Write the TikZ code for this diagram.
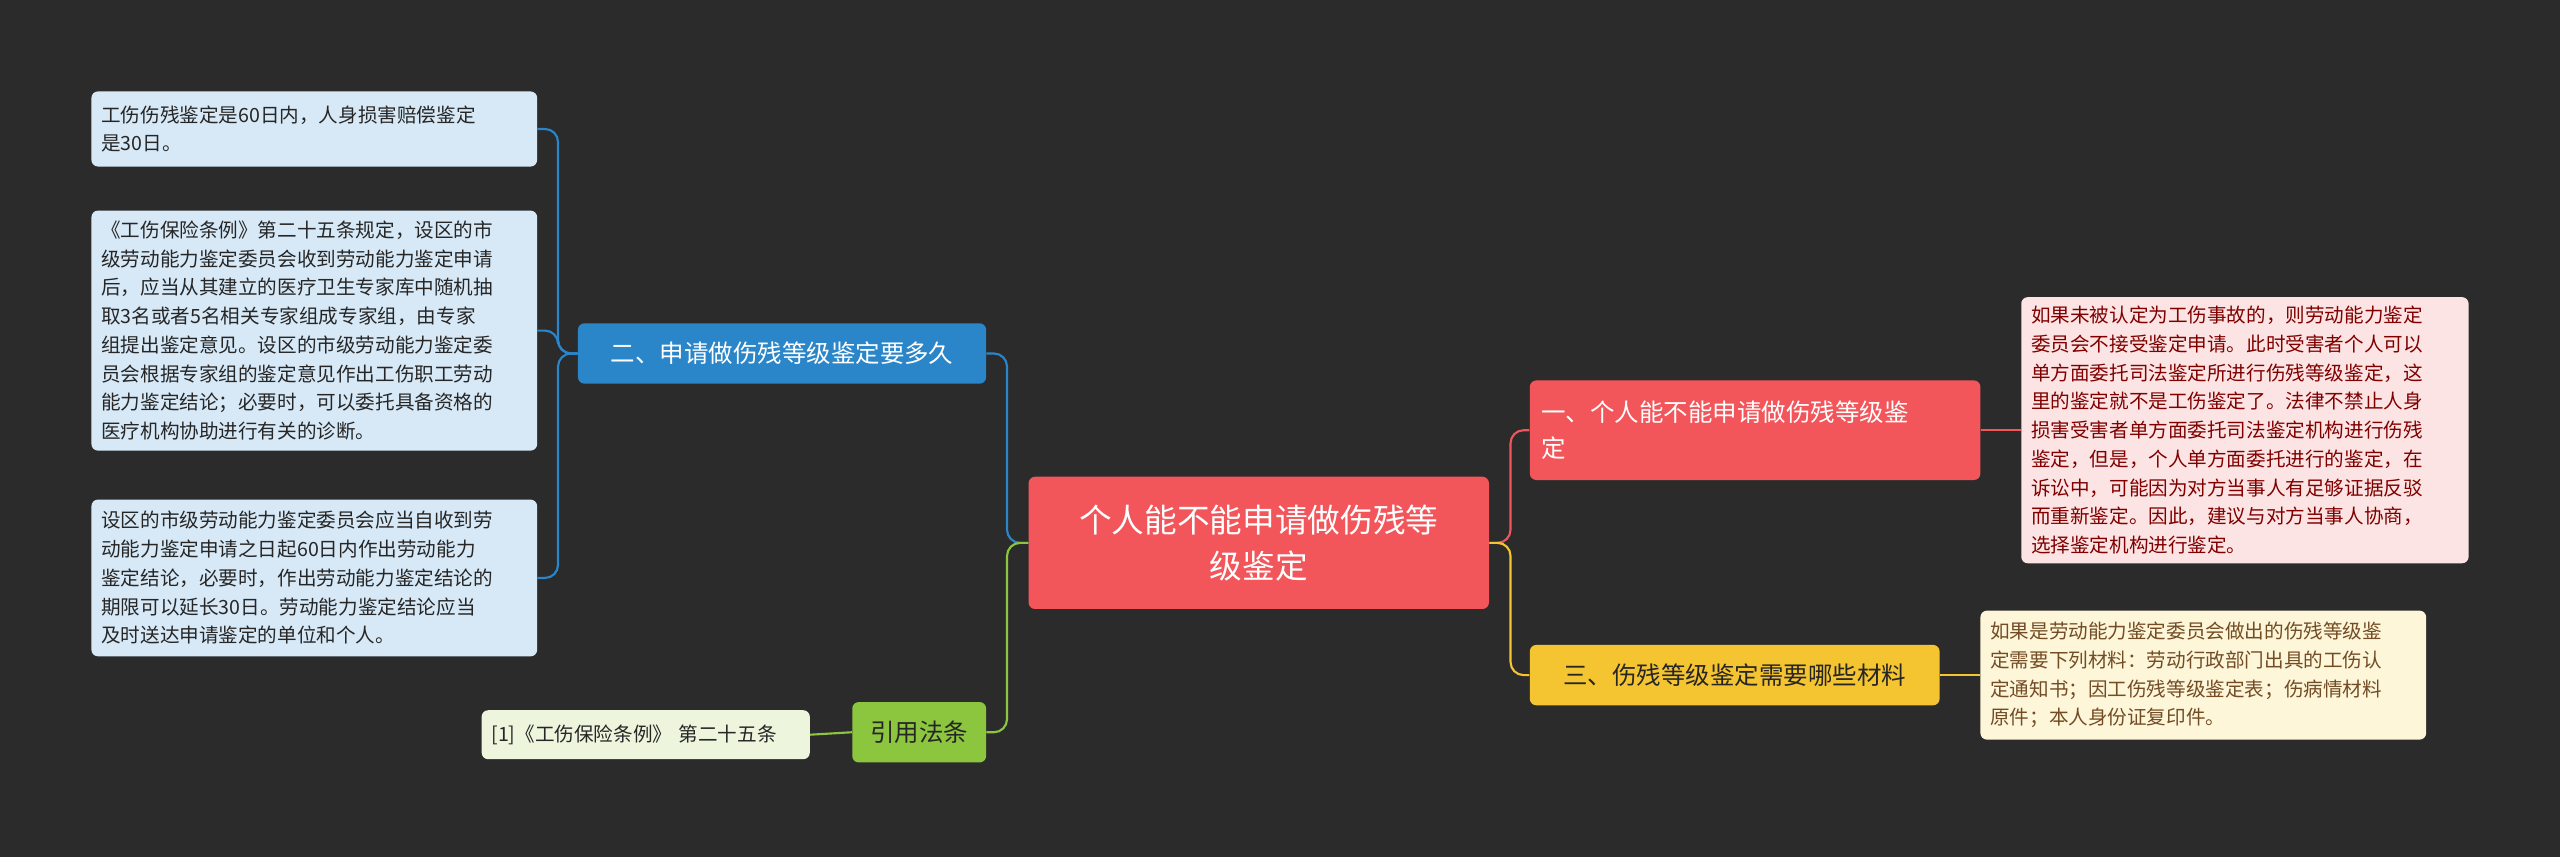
\documentclass[tikz,border=0pt]{standalone}
\usepackage{fontspec}
\newfontfamily\cjk{Noto Sans CJK SC}
\definecolor{bg}{HTML}{2B2B2C}
\definecolor{cred}{HTML}{F2555A}
\definecolor{cblue}{HTML}{2A86C8}
\definecolor{cgreen}{HTML}{8CC63F}
\definecolor{cyel}{HTML}{F5C431}
\definecolor{lblue}{HTML}{D7E9F7}
\definecolor{lgreen}{HTML}{EDF6DD}
\definecolor{lred}{HTML}{FDE4E4}
\definecolor{lyel}{HTML}{FDF6D8}
\begin{document}
\begin{tikzpicture}[x=1pt,y=-1pt,
 box/.style={rounded corners=4pt,inner sep=0pt,font=\cjk},
 leaf/.style={box,align=left,font=\cjk\fontsize{12}{17.6}\selectfont,text=black!85},
 conn/.style={line width=1.3pt,rounded corners=8pt}]
\fill[bg] (0,0) rectangle (1568,525);
\useasboundingbox (0,0) rectangle (1568,525);
% main nodes
\node[box,fill=cred,minimum width=282,minimum height=81,text=white,align=center,font=\cjk\fontsize{20}{28}\selectfont] (c) at (771,332.5) {个人能不能申请做伤残等\\级鉴定};
\node[box,fill=cblue,minimum width=250,minimum height=37,text=white,font=\cjk\fontsize{15}{20}\selectfont] (b2) at (479,216.5) {二、申请做伤残等级鉴定要多久};
\node[box,fill=cgreen,minimum width=82,minimum height=37,text=black!85,font=\cjk\fontsize{15}{20}\selectfont] (ref) at (563,448.5) {引用法条};
\node[box,fill=cred,minimum width=276,minimum height=61,text=white,align=left,font=\cjk\fontsize{15}{22}\selectfont,text width=262] (b1) at (1075,263.5) {一、个人能不能申请做伤残等级鉴\\定};
\node[box,fill=cyel,minimum width=251,minimum height=37,text=black!85,font=\cjk\fontsize{15}{20}\selectfont] (b3) at (1062.5,413.5) {三、伤残等级鉴定需要哪些材料};
% leaves
\node[leaf,fill=lblue,minimum width=273,minimum height=46,text width=261] (l1) at (192.5,79) {工伤伤残鉴定是60日内，人身损害赔偿鉴定\\是30日。};
\node[leaf,fill=lblue,minimum width=273,minimum height=147,text width=261] (l2) at (192.5,202.5) {《工伤保险条例》第二十五条规定，设区的市\\级劳动能力鉴定委员会收到劳动能力鉴定申请\\后，应当从其建立的医疗卫生专家库中随机抽\\取3名或者5名相关专家组成专家组，由专家\\组提出鉴定意见。设区的市级劳动能力鉴定委\\员会根据专家组的鉴定意见作出工伤职工劳动\\能力鉴定结论；必要时，可以委托具备资格的\\医疗机构协助进行有关的诊断。};
\node[leaf,fill=lblue,minimum width=273,minimum height=96,text width=261] (l3) at (192.5,354) {设区的市级劳动能力鉴定委员会应当自收到劳\\动能力鉴定申请之日起60日内作出劳动能力\\鉴定结论，必要时，作出劳动能力鉴定结论的\\期限可以延长30日。劳动能力鉴定结论应当\\及时送达申请鉴定的单位和个人。};
\node[leaf,fill=lgreen,minimum width=201,minimum height=30,text width=189] (r1) at (395.5,450) {[1]《工伤保险条例》 第二十五条};
\node[leaf,fill=lred,text=red!50!black,minimum width=274,minimum height=163,text width=262] (rr) at (1375,263.5) {如果未被认定为工伤事故的，则劳动能力鉴定\\委员会不接受鉴定申请。此时受害者个人可以\\单方面委托司法鉴定所进行伤残等级鉴定，这\\里的鉴定就不是工伤鉴定了。法律不禁止人身\\损害受害者单方面委托司法鉴定机构进行伤残\\鉴定，但是，个人单方面委托进行的鉴定，在\\诉讼中，可能因为对方当事人有足够证据反驳\\而重新鉴定。因此，建议与对方当事人协商，\\选择鉴定机构进行鉴定。};
\node[leaf,fill=lyel,text=brown!60!black,minimum width=273,minimum height=79,text width=261] (ry) at (1349.5,413.5) {如果是劳动能力鉴定委员会做出的伤残等级鉴\\定需要下列材料：劳动行政部门出具的工伤认\\定通知书；因工伤残等级鉴定表；伤病情材料\\原件；本人身份证复印件。};
% connectors
\draw[conn,cblue] (c.west) -- +(-13,0) |- (b2.east);
\draw[conn,cgreen] (c.west) -- +(-13,0) |- (ref.east);
\draw[conn,cred] (c.east) -- +(13,0) |- (b1.west);
\draw[conn,cyel] (c.east) -- +(13,0) |- (b3.west);
\draw[conn,cblue] (b2.west) -- +(-12,0) |- (l1.east);
\draw[conn,cblue] (b2.west) -- +(-12,0) |- (l2.east);
\draw[conn,cblue] (b2.west) -- +(-12,0) |- (l3.east);
\draw[conn,cgreen] (ref.west) -- (r1.east);
\draw[conn,cred] (b1.east) -- (rr.west);
\draw[conn,cyel] (b3.east) -- (ry.west);
\end{tikzpicture}
\end{document}
